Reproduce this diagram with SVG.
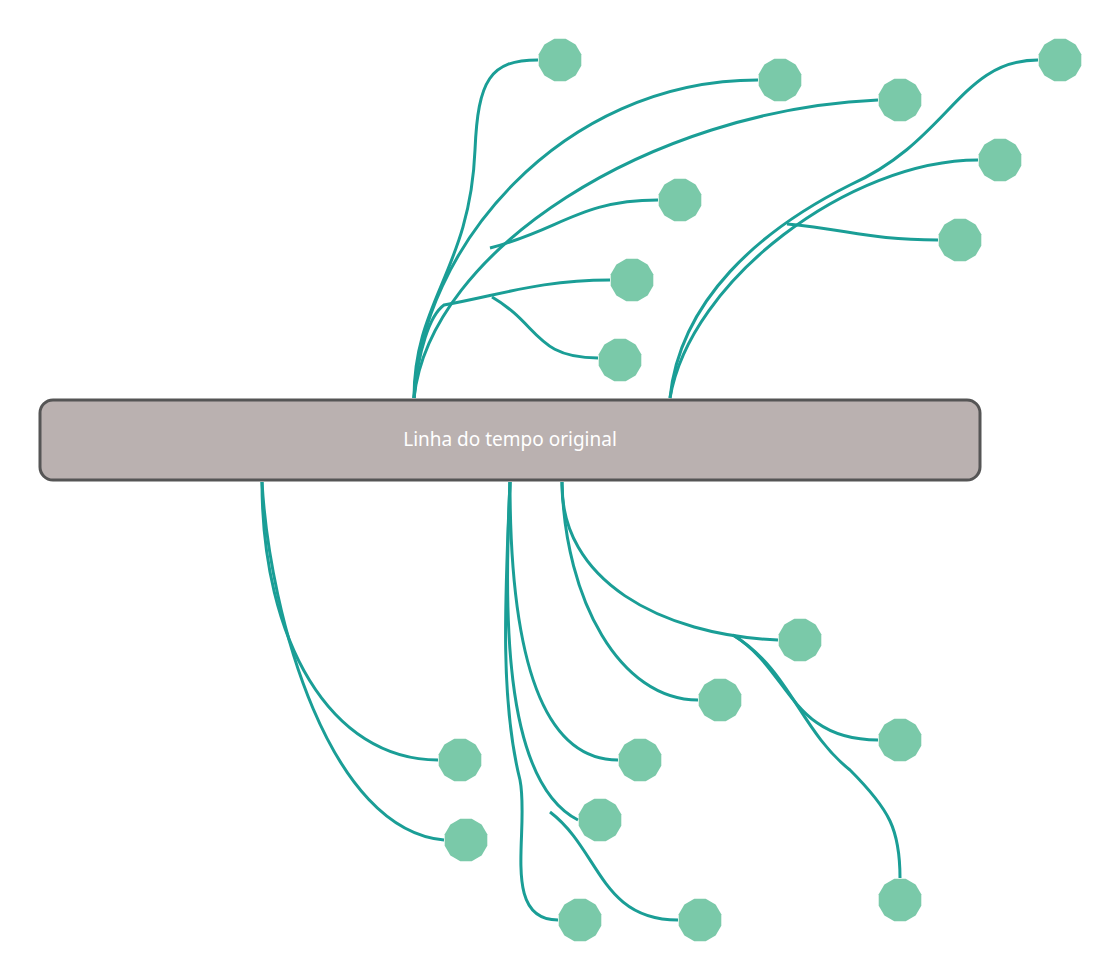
<svg xmlns="http://www.w3.org/2000/svg" xmlns:xlink="http://www.w3.org/1999/xlink" width="1120" height="980" viewBox="0 0 1120 980">
<style>
.e{fill:none;stroke:#1a9e96;stroke-width:3}
.n{fill:#7ac9a9}
.t{font-family:"Noto Sans","Open Sans",sans-serif;font-size:19px;fill:#fff}
</style>
<defs>
<polygon id="p" class="n" points="21.3,5.7 15.6,15.6 5.7,21.3 -5.7,21.3 -15.6,15.6 -21.3,5.7 -21.3,-5.7 -15.6,-15.6 -5.7,-21.3 5.7,-21.3 15.6,-15.6 21.3,-5.7"/>
</defs>
<g id="connectors">
<path class="e" d="M414,398 C414,300 470,270 475,150 C478,80 490,60 538,60"/>
<path class="e" d="M414,398 C420,250 560,80 758,80"/>
<path class="e" d="M414,398 C430,250 650,110 878,100"/>
<path class="e" d="M490,248 C560,230 580,200 658,200"/>
<path class="e" d="M414,398 C418,350 430,315 444,305 C500,295 540,280 610,280"/>
<path class="e" d="M492,297 C540,325 535,358 598,358"/>
<path class="e" d="M670,398 C680,300 760,230 850,185 C950,140 960,60 1038,60"/>
<path class="e" d="M670,398 C690,280 850,160 978,160"/>
<path class="e" d="M787,224 C850,230 870,240 938,240"/>
<path class="e" d="M262,482 C262,640 330,760 438,760"/>
<path class="e" d="M262,482 C270,620 330,830 444,840"/>
<path class="e" d="M510,482 C510,650 540,760 618,760"/>
<path class="e" d="M510,482 C505,600 500,780 578,820"/>
<path class="e" d="M510,482 C505,600 500,700 520,780 C530,830 500,920 558,920"/>
<path class="e" d="M550,812 C600,850 600,920 678,920"/>
<path class="e" d="M562,482 C565,600 620,700 698,700"/>
<path class="e" d="M562,482 C560,580 660,635 778,640"/>
<path class="e" d="M733,635 C790,670 790,740 878,740"/>
<path class="e" d="M733,635 C790,670 800,730 850,770 C890,810 900,830 900,878"/>
</g>
<g id="root">
<rect x="40" y="400" width="940" height="80" rx="13" fill="#bab1b0" stroke="#555" stroke-width="3"/>
<text class="t" x="510" y="446" text-anchor="middle">Linha do tempo original</text>
</g>
<g id="n1"><use xlink:href="#p" x="560" y="60"/></g>
<g id="n2"><use xlink:href="#p" x="780" y="80"/></g>
<g id="n3"><use xlink:href="#p" x="900" y="100"/></g>
<g id="n4"><use xlink:href="#p" x="1060" y="60"/></g>
<g id="n5"><use xlink:href="#p" x="1000" y="160"/></g>
<g id="n6"><use xlink:href="#p" x="960" y="240"/></g>
<g id="n7"><use xlink:href="#p" x="680" y="200"/></g>
<g id="n8"><use xlink:href="#p" x="632" y="280"/></g>
<g id="n9"><use xlink:href="#p" x="620" y="360"/></g>
<g id="n10"><use xlink:href="#p" x="800" y="640"/></g>
<g id="n11"><use xlink:href="#p" x="720" y="700"/></g>
<g id="n12"><use xlink:href="#p" x="900" y="740"/></g>
<g id="n13"><use xlink:href="#p" x="640" y="760"/></g>
<g id="n14"><use xlink:href="#p" x="460" y="760"/></g>
<g id="n15"><use xlink:href="#p" x="600" y="820"/></g>
<g id="n16"><use xlink:href="#p" x="466" y="840"/></g>
<g id="n17"><use xlink:href="#p" x="580" y="920"/></g>
<g id="n18"><use xlink:href="#p" x="700" y="920"/></g>
<g id="n19"><use xlink:href="#p" x="900" y="900"/></g>
</svg>
